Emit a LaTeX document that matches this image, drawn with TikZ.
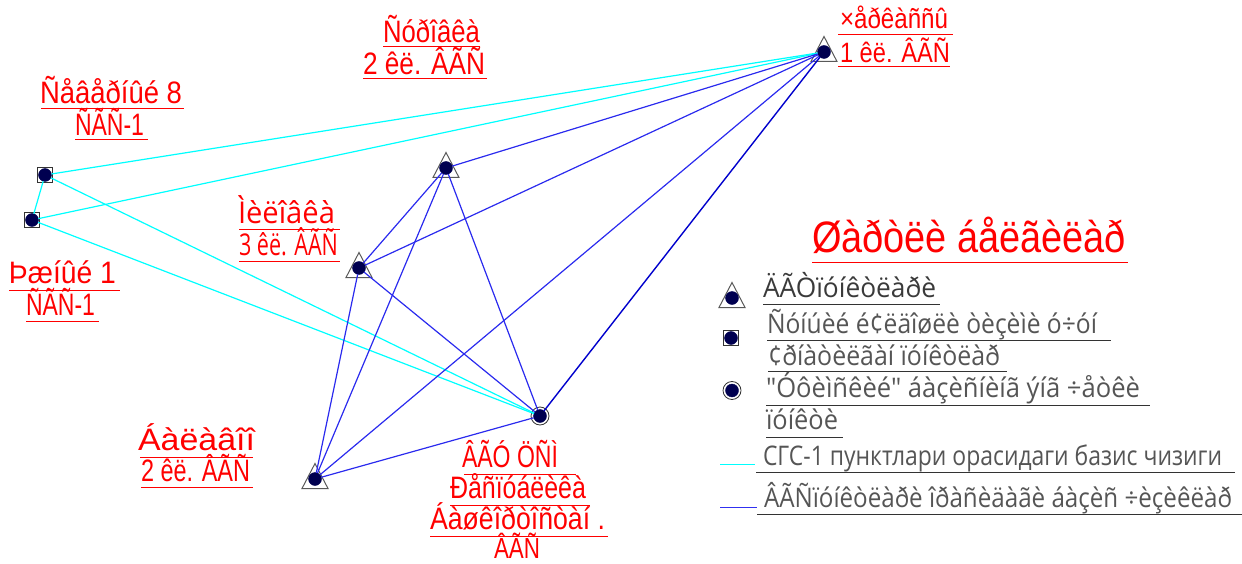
\documentclass[tikz,border=0pt]{standalone}
\usepackage{graphicx}
\usepackage{fontspec}
\setmainfont{Liberation Sans}
\newfontfamily\thinfont{Open Sans}
\definecolor{navy}{HTML}{000050}
\definecolor{basecyan}{HTML}{00FFFF}
\definecolor{netblue}{HTML}{2A2AEE}
\definecolor{legblue}{HTML}{3030F0}
\definecolor{legtext}{HTML}{555555}
\definecolor{legdark}{HTML}{3A3A3A}
\definecolor{legline}{HTML}{333333}
\newcommand{\redlab}[6]{\node[textnode,text=red] (#1) at (#2,#3) {\resizebox{#4pt}{\height}{\fontsize{#5pt}{#5pt}\selectfont #6}};}
\newcommand{\thinlab}[7]{\node[textnode,text=#6] (#1) at (#2,#3) {\resizebox{#4pt}{\height}{\thinfont\fontsize{#5pt}{#5pt}\selectfont #7}};}
\newcommand{\tri}[2]{\draw[triline] (#1-13,#2+9.5) -- (#1,#2-15.5) -- (#1+13,#2+9.5) -- cycle;}
\tikzset{
  textnode/.style={anchor=base west,inner sep=0pt,outer sep=0pt},
  dotnode/.style={circle,fill=navy,draw=navy,minimum size=13pt,inner sep=0pt,outer sep=0pt},
  squarenode/.style={rectangle,draw=legline,fill=white,line width=1.2pt,minimum size=14.5pt,inner sep=0pt},
  ringnode/.style={circle,draw=legline,fill=white,line width=0.8pt,minimum size=18pt,inner sep=0pt},
  triline/.style={draw=black!65,line width=1pt,line join=miter},
  basisline/.style={draw=basecyan,line width=1.2pt},
  netline/.style={draw=netblue,line width=1.2pt},
  strongline/.style={draw=blue!80!black,line width=1.4pt},
  redrule/.style={draw=red,line width=1pt},
  legrule/.style={draw=legline,line width=1pt},
}
\begin{document}
\begin{tikzpicture}[x=1pt,y=-1pt]
\useasboundingbox (0,0) rectangle (1242,564);
% triangles
\tri{446}{168}
\tri{359}{268}
\tri{315}{479}
\tri{824}{52}
\tri{732}{298}
% rings, squares
\node[squarenode] at (45,175) {};
\node[squarenode] at (32,220) {};
\node[squarenode] at (731,338) {};
\node[ringnode] at (540,416) {};
\node[ringnode] at (732,390.5) {};
% points
\node[dotnode] (cherk) at (824,52) {};
\node[dotnode] (surov) at (446,168) {};
\node[dotnode] (milov) at (359,268) {};
\node[dotnode] (balav) at (315,479) {};
\node[dotnode] (vgu) at (540,416) {};
\node[dotnode] (north) at (45,175) {};
\node[dotnode] (south) at (32,220) {};
\node[dotnode] (legtri) at (732,298) {};
\node[dotnode] (legsq) at (731,338) {};
\node[dotnode] (legcirc) at (732,390.5) {};
% connectors
\draw[basisline] (north) -- (cherk);
\draw[basisline] (south) -- (cherk);
\draw[basisline] (north) -- (vgu);
\draw[basisline] (south) -- (vgu);
\draw[basisline] (north) -- (south);
\draw[netline] (surov) -- (cherk);
\draw[netline] (milov) -- (cherk);
\draw[netline] (balav) -- (cherk);
\draw[strongline] (vgu) -- (cherk);
\draw[netline] (surov) -- (milov);
\draw[netline] (surov) -- (balav);
\draw[netline] (surov) -- (vgu);
\draw[netline] (milov) -- (balav);
\draw[netline] (milov) -- (vgu);
\draw[netline] (balav) -- (vgu);
% red labels
\redlab{n1}{40}{104}{142}{31}{Ñåâåðíûé 8}
\draw[redrule] (41,108.5) -- (184,108.5);
\redlab{n2}{75}{136}{69}{31}{ÑÃÑ-1}
\draw[redrule] (75,140) -- (148,140);
\redlab{s1}{9}{283}{107}{31}{Þæíûé 1}
\draw[redrule] (9,290) -- (120,290);
\redlab{s2}{26}{315}{69}{31}{ÑÃÑ-1}
\draw[redrule] (26,321) -- (99,321);
\redlab{r1}{383}{43}{97}{31}{Ñóðîâêà}
\draw[redrule] (383,47) -- (480,47);
\redlab{r2}{363}{75}{122}{31}{2 êë. ÂÃÑ}
\draw[redrule] (363,79) -- (487,79);
\redlab{c1}{840}{29}{108}{28}{×åðêàññû}
\draw[redrule] (838,35) -- (953,35);
\redlab{c2}{840}{63}{110}{28}{1 êë. ÂÃÑ}
\draw[redrule] (838,67) -- (950,67);
\thinlab{m1}{238}{224}{97}{30}{red}{Ìèëîâêà}
\draw[redrule] (239,230) -- (340,230);
\thinlab{m2}{239}{255}{99}{30}{red}{3 êë. ÂÃÑ}
\draw[redrule] (239,261.5) -- (340,261.5);
\redlab{b1}{138}{450}{117}{31}{Áàëàâîî}
\draw[redrule] (140,457) -- (253,457);
\redlab{b2}{141}{481}{109}{31}{2 êë. ÂÃÑ}
\draw[redrule] (141,487) -- (253,487);
\redlab{v1}{462}{467}{96}{31}{ÂÃÓ ÖÑÌ}
\draw[redrule] (464,474) -- (576,474);
\redlab{v2}{450}{498}{136}{31}{Ðåñïóáëèêà}
\draw[redrule] (450,505) -- (590,505);
\redlab{v3}{430}{529}{175}{31}{Áàøêîðòîñòàí .}
\draw[redrule] (430,536) -- (608,536);
\redlab{v4}{494}{558}{46}{29}{ÂÃÑ}
% legend
\redlab{title}{812}{252}{314}{44}{Øàðòëè áåëãèëàð}
\draw[redrule] (812,262) -- (1128,262);
\thinlab{l1}{763}{298}{173}{27}{legdark}{ÄÃÒïóíêòëàðè}
\draw[legrule] (763,304) -- (940,304);
\thinlab{l2}{767}{333}{330}{27}{legtext}{Ñóíúèé é¢ëäîøëè òèçèìè ó÷óí}
\draw[legrule] (767,340) -- (1111,340);
\thinlab{l3}{768}{365}{232}{27}{legtext}{¢ðíàòèëãàí ïóíêòëàð}
\draw[legrule] (768,371.5) -- (1007,371.5);
\thinlab{l4}{766}{397}{374}{27}{legtext}{"Óôèìñêèé" áàçèñíèíã ýíã ÷åòêè}
\draw[legrule] (766,405) -- (1150,405);
\thinlab{l5}{766}{429}{72}{27}{legtext}{ïóíêòè}
\draw[legrule] (766,437) -- (843,437);
\thinlab{l6}{763}{465}{459}{27}{legtext}{СГС-1 пунктлари орасидаги базис чизиги}
\draw[legrule] (756,472.5) -- (1235,472.5);
\thinlab{l7}{764}{507}{468}{27}{legtext}{ÂÃÑïóíêòëàðè îðàñèäàãè áàçèñ ÷èçèêëàð}
\draw[legrule] (757,514.5) -- (1242,514.5);
\coordinate (cy1) at (720,464.5);
\coordinate (cy2) at (755,464.5);
\coordinate (bl1) at (720,507.5);
\coordinate (bl2) at (757,507.5);
\draw[basisline] (cy1) -- (cy2);
\draw[draw=legblue,line width=1.2pt] (bl1) -- (bl2);
\end{tikzpicture}
\end{document}
